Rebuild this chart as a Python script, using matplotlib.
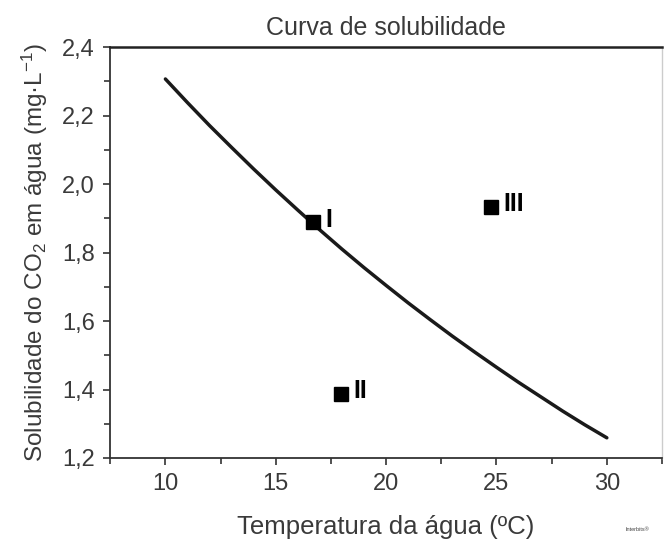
import numpy as np
import matplotlib
matplotlib.use("Agg")
import matplotlib.pyplot as plt
from matplotlib.ticker import MultipleLocator

plt.rcParams['font.family'] = ['Liberation Sans', 'DejaVu Sans']
plt.rcParams['mathtext.fontset'] = 'custom'
plt.rcParams['mathtext.rm'] = 'Liberation Sans'
plt.rcParams['mathtext.default'] = 'regular'

# curva de solubilidade
temperatura = [10, 11, 12, 13, 14, 15, 16, 17, 18, 19, 20,
               21, 22, 23, 24, 25, 26, 27, 28, 29, 30]
solubilidade = [2.307, 2.238, 2.171, 2.107, 2.044, 1.983, 1.924, 1.866, 1.810, 1.756, 1.704,
                1.653, 1.604, 1.556, 1.510, 1.465, 1.421, 1.379, 1.337, 1.297, 1.259]

# pontos I, II, III
pontos_nome = ["I", "II", "III"]
pontos_x = [16.7, 17.95, 24.75]
pontos_y = [1.888, 1.387, 1.933]

texto = "#3a3a3a"

fig = plt.figure(figsize=(6.64, 5.42), dpi=100)
ax = fig.add_axes([0.166, 0.155, 0.831, 0.758])

ax.plot(temperatura, solubilidade, color="#1a1a1a", lw=2.5, solid_capstyle="round")
ax.plot(pontos_x, pontos_y, "s", color="black", ms=10.5)
for nome, px, py in zip(pontos_nome, pontos_x, pontos_y):
    ax.text(px + 0.55, py + 0.008, nome, fontsize=18, fontweight="bold",
            fontstretch="condensed", ha="left", va="center", color="black")

ax.set_xlim(7.5, 32.5)
ax.set_ylim(1.2, 2.4)
ax.xaxis.set_major_locator(MultipleLocator(5))
ax.xaxis.set_minor_locator(MultipleLocator(2.5))
ax.yaxis.set_major_locator(MultipleLocator(0.2))
ax.yaxis.set_minor_locator(MultipleLocator(0.1))
ax.set_yticks(ax.get_yticks())
ax.set_yticklabels([f"{v:.1f}".replace(".", ",") for v in ax.get_yticks()])
ax.set_ylim(1.2, 2.4)

ax.tick_params(which="both", direction="out", color="#333333", width=1.2,
               labelsize=17, labelcolor=texto)
ax.tick_params(which="major", length=5, pad=6)
ax.tick_params(which="minor", length=4)

for s in ["left", "bottom"]:
    ax.spines[s].set_color("#333333")
    ax.spines[s].set_linewidth(1.3)
ax.spines["top"].set_color("#222222")
ax.spines["top"].set_linewidth(1.8)
ax.spines["right"].set_color("#cccccc")
ax.spines["right"].set_linewidth(1.0)

ax.set_title("Curva de solubilidade", fontsize=18, color=texto, pad=9)
ax.set_xlabel("Temperatura da água (ºC)", fontsize=18.5, color=texto, labelpad=14)
ax.set_ylabel("Solubilidade do CO$_2$ em água (mg·L$^{-1}$)", fontsize=17.5,
              color=texto, labelpad=9)

fig.text(0.96, 0.02, "Interbits®", fontsize=4, color="#444444", ha="center")

fig.savefig("out.png", dpi=100)
